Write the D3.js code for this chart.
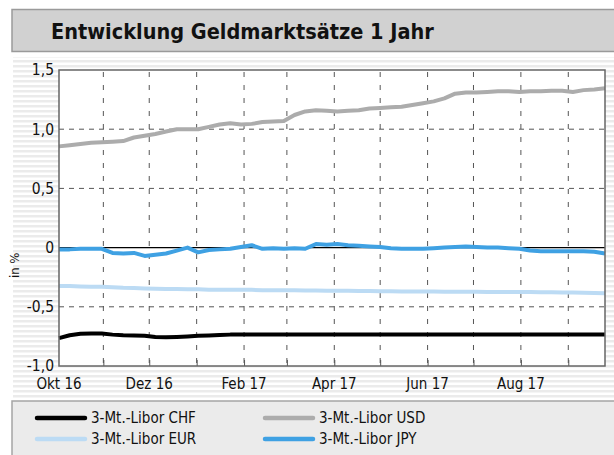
<!DOCTYPE html>
<html>
<head>
<meta charset="utf-8">
<script src="https://cdn.jsdelivr.net/npm/d3@7"></script>
<style>
  body { margin: 0; background: #fff; }
  text { font-family: "DejaVu Sans Condensed", "Liberation Sans Narrow", Roboto, sans-serif; fill: #111; }
</style>
</head>
<body>
<div id="chart"></div>
<script>
const svgWidth = 614
const svgHeight = 455

const dates = [
  "2016-10-03", "2016-10-10", "2016-10-17", "2016-10-24", "2016-10-31",
  "2016-11-07", "2016-11-14", "2016-11-21", "2016-11-28",
  "2016-12-05", "2016-12-12", "2016-12-19", "2016-12-26",
  "2017-01-02", "2017-01-09", "2017-01-16", "2017-01-23", "2017-01-30",
  "2017-02-06", "2017-02-13", "2017-02-20", "2017-02-27",
  "2017-03-06", "2017-03-13", "2017-03-20", "2017-03-27",
  "2017-04-03", "2017-04-10", "2017-04-17", "2017-04-24",
  "2017-05-01", "2017-05-08", "2017-05-15", "2017-05-22", "2017-05-29",
  "2017-06-05", "2017-06-12", "2017-06-19", "2017-06-26",
  "2017-07-03", "2017-07-10", "2017-07-17", "2017-07-24", "2017-07-31",
  "2017-08-07", "2017-08-14", "2017-08-21", "2017-08-28",
  "2017-09-04", "2017-09-11", "2017-09-18", "2017-09-25"
]

const liborCHF = [
  -0.765, -0.74, -0.728, -0.725, -0.726, -0.735, -0.74, -0.742, -0.745,
  -0.755, -0.758, -0.755, -0.75, -0.745, -0.742, -0.738, -0.735, -0.735,
  -0.735, -0.735, -0.735, -0.735, -0.735, -0.735, -0.735, -0.735,
  -0.733, -0.733, -0.733, -0.735, -0.735, -0.735, -0.735, -0.735, -0.735,
  -0.735, -0.735, -0.735, -0.735, -0.735, -0.735, -0.735, -0.735, -0.733,
  -0.733, -0.733, -0.733, -0.733, -0.733, -0.733, -0.733, -0.733
]

const liborUSD = [
  0.855, 0.865, 0.875, 0.885, 0.89, 0.895, 0.9, 0.93, 0.945,
  0.96, 0.98, 1.0, 1.0, 1.0, 1.02, 1.04, 1.05, 1.04,
  1.045, 1.06, 1.065, 1.07, 1.12, 1.15, 1.16, 1.155,
  1.15, 1.155, 1.16, 1.175, 1.18, 1.185, 1.19, 1.205, 1.22,
  1.235, 1.26, 1.3, 1.31, 1.31, 1.315, 1.32, 1.32, 1.315,
  1.32, 1.32, 1.325, 1.325, 1.315, 1.33, 1.335, 1.345
]

const liborEUR = [
  -0.325, -0.325, -0.328, -0.33, -0.33, -0.335, -0.34, -0.342, -0.345,
  -0.348, -0.35, -0.35, -0.352, -0.352, -0.355, -0.355, -0.355, -0.357,
  -0.357, -0.36, -0.36, -0.36, -0.36, -0.362, -0.362, -0.364,
  -0.365, -0.365, -0.366, -0.367, -0.368, -0.368, -0.37, -0.37, -0.37,
  -0.371, -0.372, -0.372, -0.373, -0.373, -0.374, -0.374, -0.375, -0.375,
  -0.376, -0.377, -0.378, -0.379, -0.38, -0.381, -0.383, -0.385
]

const liborJPY = [
  -0.015, -0.015, -0.01, -0.01, -0.01, -0.045, -0.05, -0.045, -0.07,
  -0.06, -0.05, -0.025, 0.0, -0.04, -0.02, -0.015, -0.01, 0.005,
  0.02, -0.01, -0.005, -0.01, -0.005, -0.01, 0.03, 0.025,
  0.03, 0.02, 0.015, 0.01, 0.005, -0.005, -0.01, -0.01, -0.01,
  -0.005, 0.0, 0.005, 0.01, 0.005, 0.0, 0.0, -0.005, -0.01,
  -0.025, -0.03, -0.03, -0.03, -0.03, -0.03, -0.035, -0.05
]

const series = [
  { name: "3-Mt.-Libor CHF", values: liborCHF, color: "#000000" },
  { name: "3-Mt.-Libor EUR", values: liborEUR, color: "#bcdbf4" },
  { name: "3-Mt.-Libor USD", values: liborUSD, color: "#acacac" },
  { name: "3-Mt.-Libor JPY", values: liborJPY, color: "#3fa1e3" }
]

const yTicks = [-1.0, -0.5, 0, 0.5, 1.0, 1.5]
const title = "Entwicklung Geldmarktsätze 1 Jahr"
const yTitle = "in %"

const parseDate = d3.timeParse("%Y-%m-%d")
const fmtMonth = d3.timeFormatLocale({
  dateTime: "%A, der %e. %B %Y, %X", date: "%d.%m.%Y", time: "%H:%M:%S",
  periods: ["AM", "PM"],
  days: ["Sonntag", "Montag", "Dienstag", "Mittwoch", "Donnerstag", "Freitag", "Samstag"],
  shortDays: ["So", "Mo", "Di", "Mi", "Do", "Fr", "Sa"],
  months: ["Januar", "Februar", "März", "April", "Mai", "Juni", "Juli", "August", "September", "Oktober", "November", "Dezember"],
  shortMonths: ["Jan", "Feb", "Mrz", "Apr", "Mai", "Jun", "Jul", "Aug", "Sep", "Okt", "Nov", "Dez"]
}).format("%b %y")

let margin = { top: 70, right: 9, bottom: 89, left: 59 }
let width = svgWidth - margin.left - margin.right
let height = svgHeight - margin.top - margin.bottom

let svg = d3
  .select("#chart")
  .append("svg")
  .attr("width", svgWidth)
  .attr("height", svgHeight)

// striped background
let defs = svg.append("defs")
let pattern = defs.append("pattern")
  .attr("id", "stripes")
  .attr("patternUnits", "userSpaceOnUse")
  .attr("width", 10)
  .attr("height", 5)
pattern.append("rect").attr("width", 10).attr("height", 5).attr("fill", "#ffffff")
pattern.append("rect").attr("width", 10).attr("height", 2.5).attr("fill", "#ebebeb")

svg.append("rect")
  .attr("x", 13).attr("y", 57)
  .attr("width", svgWidth - 13).attr("height", 342)
  .attr("fill", "url(#stripes)")

// title box
svg.append("rect")
  .attr("x", 12).attr("y", 9.5)
  .attr("width", svgWidth).attr("height", 42)
  .attr("fill", "#d1d1d1")
  .attr("stroke", "#9a9a9a")
  .attr("stroke-width", 1.5)

svg.append("text")
  .attr("x", 51).attr("y", 39)
  .style("font-size", "21.5px")
  .style("font-weight", "bold")
  .text(title)

let chartGroup = svg
  .append("g")
  .attr("transform", `translate(${margin.left}, ${margin.top})`)

let x = d3.scaleTime()
  .domain([parseDate(dates[0]), parseDate(dates[dates.length - 1])])
  .range([0, width])

let y = d3.scaleLinear()
  .domain([-1, 1.5])
  .range([height, 0])

chartGroup.append("rect")
  .attr("width", width).attr("height", height)
  .attr("fill", "#fff")

let months = d3.timeMonth.range(d3.timeMonth.ceil(x.domain()[0]), x.domain()[1])

// vertical dashed grid
chartGroup.append("g")
  .selectAll("line")
  .data(months)
  .enter()
  .append("line")
  .attr("x1", d => x(d)).attr("x2", d => x(d))
  .attr("y1", 2).attr("y2", height)
  .attr("stroke", "#555")
  .attr("stroke-width", 1)
  .attr("stroke-dasharray", "5,8")

// horizontal dashed grid
chartGroup.append("g")
  .selectAll("line")
  .data(yTicks.filter(v => v !== 0 && v > -1 && v < 1.5))
  .enter()
  .append("line")
  .attr("x1", 0).attr("x2", width)
  .attr("y1", d => y(d)).attr("y2", d => y(d))
  .attr("stroke", "#555")
  .attr("stroke-width", 1)
  .attr("stroke-dasharray", "5,5")

// zero line
chartGroup.append("line")
  .attr("x1", 0).attr("x2", width)
  .attr("y1", y(0)).attr("y2", y(0))
  .attr("stroke", "#000")
  .attr("stroke-width", 1.2)

// bottom month ticks
chartGroup.append("g")
  .attr("transform", `translate(0, ${height})`)
  .call(d3.axisBottom(x).tickValues(months).tickSize(-6).tickFormat(""))
  .call(g => g.select(".domain").remove())
  .call(g => g.selectAll(".tick line").attr("stroke", "#555"))

// series
let line = d3.line()
  .x((d, i) => x(parseDate(dates[i])))
  .y(d => y(d))

chartGroup.append("g")
  .selectAll("path")
  .data(series)
  .enter()
  .append("path")
  .attr("d", d => line(d.values))
  .attr("fill", "none")
  .attr("stroke", d => d.color)
  .attr("stroke-width", 4)
  .attr("stroke-linejoin", "round")

// frame
chartGroup.append("rect")
  .attr("width", width).attr("height", height)
  .attr("fill", "none")
  .attr("stroke", "#666")
  .attr("stroke-width", 1.5)

// y axis labels
chartGroup.append("g")
  .selectAll("text")
  .data(yTicks)
  .enter()
  .append("text")
  .attr("x", -5)
  .attr("y", d => y(d))
  .attr("dy", "0.35em")
  .attr("text-anchor", "end")
  .style("font-size", "15.5px")
  .text(d => d === 0 ? "0" : d3.format(".1f")(d).replace(".", ",").replace("−", "-"))

chartGroup.append("text")
  .attr("transform", `translate(${19 - margin.left}, ${y(-0.15)}) rotate(-90)`)
  .attr("text-anchor", "middle")
  .style("font-size", "13px")
  .text(yTitle)

// x labels every second month
chartGroup.append("g")
  .selectAll("text")
  .data([d3.timeMonth.floor(x.domain()[0])].concat(months).filter(d => d.getMonth() % 2 === 1))
  .enter()
  .append("text")
  .attr("x", d => Math.max(x(d), 0))
  .attr("y", height + 23)
  .attr("text-anchor", "middle")
  .style("font-size", "15px")
  .text(d => fmtMonth(d))

// legend box
svg.append("rect")
  .attr("x", 12).attr("y", 401)
  .attr("width", svgWidth).attr("height", 60)
  .attr("fill", "#ebebeb")
  .attr("stroke", "#a5a5a5")
  .attr("stroke-width", 1.5)

let legendPos = [[37, 418], [37, 439], [265, 418], [265, 439]]

let legend = svg.append("g")
  .selectAll("g")
  .data(series)
  .enter()
  .append("g")
  .attr("transform", (d, i) => `translate(${legendPos[i][0]}, ${legendPos[i][1]})`)

legend.append("line")
  .attr("x1", 0).attr("x2", 48)
  .attr("stroke", d => d.color)
  .attr("stroke-width", 4.5)
  .attr("stroke-linecap", "round")

legend.append("text")
  .attr("x", 54)
  .attr("dy", "0.35em")
  .style("font-size", "15px")
  .text(d => d.name)
</script>
</body>
</html>
